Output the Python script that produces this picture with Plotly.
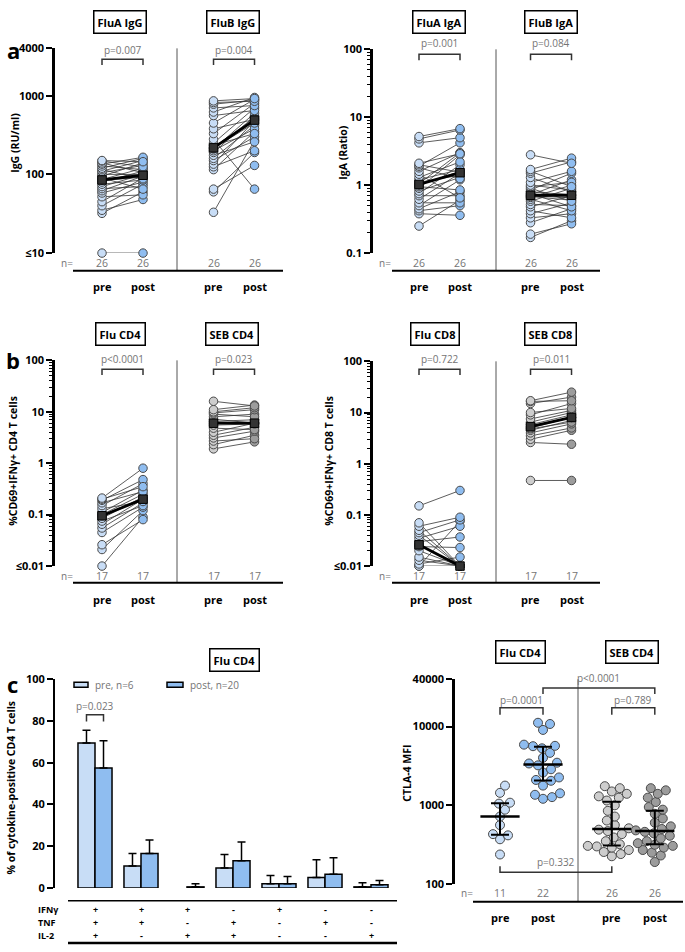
import numpy as np
import plotly.graph_objects as go

W, H = 685, 952

# ------------------------------------------------------------------ data
cats = ["pre", "post"]

fluA_igg_pre = [10, 32, 35, 40, 45, 52, 58, 62, 66, 70, 75, 80, 84, 86, 90, 95, 100, 105, 110, 115, 120, 128, 135, 140, 148, 150]
fluA_igg_post = [10, 60, 48, 75, 90, 55, 80, 95, 70, 100, 85, 110, 92, 120, 65, 140, 100, 130, 150, 88, 160, 115, 165, 105, 125, 145]
fluB_igg_pre = [33, 60, 65, 115, 125, 135, 150, 160, 175, 190, 200, 210, 215, 220, 235, 250, 280, 330, 380, 450, 560, 620, 700, 780, 820, 860]
fluB_igg_post = [270, 190, 130, 350, 200, 480, 300, 420, 260, 550, 380, 600, 450, 520, 330, 700, 65, 800, 500, 900, 650, 950, 750, 880, 850, 920]

fluA_iga_pre = [0.25, 0.38, 0.42, 0.45, 0.5, 0.55, 0.62, 0.7, 0.75, 0.82, 0.9, 0.95, 1.0, 1.05, 1.1, 1.2, 1.3, 1.45, 1.6, 1.8, 1.9, 2.0, 2.1, 4.2, 4.8, 5.2]
fluA_iga_post = [0.6, 0.36, 0.5, 0.8, 1.2, 0.55, 1.5, 0.7, 2.0, 1.3, 2.8, 0.85, 1.6, 3.0, 1.4, 1.7, 2.2, 0.65, 3.0, 1.25, 4.2, 1.55, 2.9, 5.0, 6.5, 6.8]
fluB_iga_pre = [0.17, 0.19, 0.28, 0.33, 0.38, 0.42, 0.48, 0.52, 0.58, 0.62, 0.66, 0.68, 0.7, 0.72, 0.75, 0.8, 0.85, 0.9, 0.95, 1.0, 1.1, 1.3, 1.5, 1.6, 1.7, 2.8]
fluB_iga_post = [0.3, 0.27, 0.45, 0.38, 0.55, 0.33, 0.7, 0.5, 0.9, 0.42, 1.0, 0.6, 0.65, 1.2, 0.48, 0.72, 1.5, 0.58, 1.1, 0.85, 1.6, 0.8, 2.2, 0.95, 2.5, 2.1]

flu_cd4_pre = [0.01, 0.021, 0.026, 0.045, 0.055, 0.065, 0.075, 0.085, 0.095, 0.1, 0.11, 0.13, 0.15, 0.17, 0.19, 0.2, 0.21]
flu_cd4_post = [0.09, 0.12, 0.08, 0.14, 0.17, 0.2, 0.15, 0.22, 0.2, 0.25, 0.3, 0.18, 0.4, 0.28, 0.48, 0.35, 0.8]
seb_cd4_pre = [1.9, 2.3, 2.7, 3.1, 3.5, 4.0, 4.8, 5.5, 6.0, 6.5, 7.2, 8.0, 9.0, 9.5, 10, 11, 16]
seb_cd4_post = [2.6, 3.5, 3.0, 4.2, 5.0, 6.0, 4.5, 5.8, 6.2, 7.0, 6.0, 9.0, 8.0, 11, 12, 13.5, 13]

flu_cd8_pre = [0.01, 0.01, 0.011, 0.013, 0.015, 0.02, 0.024, 0.026, 0.026, 0.03, 0.035, 0.04, 0.045, 0.05, 0.06, 0.07, 0.15]
flu_cd8_post = [0.01, 0.075, 0.015, 0.01, 0.01, 0.01, 0.023, 0.01, 0.01, 0.037, 0.06, 0.01, 0.08, 0.01, 0.09, 0.01, 0.3]
seb_cd8_pre = [0.47, 2.6, 3.0, 3.5, 4.0, 4.5, 4.8, 5.0, 5.3, 5.8, 6.5, 7.5, 9, 10, 15, 16.5, 17]
seb_cd8_post = [0.47, 2.4, 4.5, 5.0, 6.0, 7.0, 6.5, 8.0, 8.0, 9.0, 10, 11, 15, 12, 20, 17, 25]

cyto_groups = list(range(7))
cyto_pre_mean = [69.5, 10.5, None, 9.5, 2, 5, 0.5]
cyto_pre_sd = [6, 6, None, 6.5, 4, 8.5, 2]
cyto_post_mean = [57.5, 16.5, 0.5, 13, 2, 6.5, 1.5]
cyto_post_sd = [13, 6.5, 1.5, 9, 3.5, 8, 2]
cyto_rows = ["IFNγ", "TNF", "IL-2"]
cyto_signs = [["+", "+", "+", "-", "+", "-", "-"],
              ["+", "+", "-", "+", "-", "+", "-"],
              ["+", "-", "+", "+", "-", "-", "+"]]

ctla_flu_pre = [237, 370, 415, 430, 560, 720, 880, 1050, 1080, 1440, 1780]
ctla_flu_post = [1210, 1270, 1360, 1420, 1780, 2050, 2100, 2260, 2610, 2870, 3220, 3400, 3480, 4020, 4640, 5300, 5640, 5700, 5900, 9080, 10800, 11200]
ctla_seb_pre = [225, 240, 255, 270, 290, 300, 305, 320, 350, 390, 430, 470, 490, 510, 560, 640, 720, 850, 1000, 1150, 1250, 1300, 1400, 1500, 1650, 1750]
ctla_seb_post = [190, 230, 250, 270, 290, 305, 315, 330, 350, 380, 410, 440, 460, 480, 500, 540, 600, 680, 780, 880, 950, 1100, 1250, 1400, 1550, 1650]

# ------------------------------------------------------------------ style
FONT = "Open Sans"
BLUE_PRE, BLUE_POST = "#c8ddf6", "#8fbdf0"
GREY_PRE, GREY_POST = "#cdcdcd", "#9c9c9c"
EDGE = "#4a4a4a"
PGREY = "#747474"


def X(p):
    return p / W


def Y(p):
    return 1 - p / H


fig = go.Figure()
layout = dict(width=W, height=H, margin=dict(l=0, r=0, t=0, b=0),
              paper_bgcolor="white", plot_bgcolor="white", showlegend=False,
              font=dict(family=FONT, color="black"))
shapes, annotations = [], []
naxes = [0]


def add_axes(xdom, ydom, xrange, yrange, ytype, tickvals, ticktext, minor=None, linew=2.5):
    naxes[0] += 1
    s = "" if naxes[0] == 1 else str(naxes[0])
    layout["xaxis" + s] = dict(domain=[X(xdom[0]), X(xdom[1])], range=xrange, visible=False,
                               anchor="y" + s, fixedrange=True)
    ya = dict(domain=[Y(ydom[1]), Y(ydom[0])], range=yrange, type=ytype, anchor="x" + s,
              showline=True, linewidth=linew, linecolor="black", ticks="outside", ticklen=6,
              tickwidth=2, tickcolor="black", tickvals=tickvals,
              ticktext=[f"<b>{t}</b>" for t in ticktext],
              tickfont=dict(size=11, family=FONT, color="black"),
              showgrid=False, zeroline=False, fixedrange=True)
    if minor is not None:
        ya["minor"] = dict(tickvals=minor, ticks="outside", ticklen=3, tickwidth=1, tickcolor="black")
    layout["yaxis" + s] = ya
    return "x" + s, "y" + s


def xr(dom, pre_px, unit):
    return [(dom[0] - pre_px) / unit, (dom[1] - pre_px) / unit]


def text(x, y, t, size=10, color="black", bold=False, xref="paper", angle=0, xanchor="center"):
    annotations.append(dict(x=x, y=y, xref=xref, yref="paper", text=f"<b>{t}</b>" if bold else t,
                            showarrow=False, font=dict(size=size, color=color, family=FONT),
                            textangle=angle, xanchor=xanchor, yanchor="middle", borderpad=0))


def title_box(xc, yc, t):
    annotations.append(dict(x=X(xc), y=Y(yc), xref="paper", yref="paper", text=f"<b>{t}</b>",
                            showarrow=False, font=dict(size=11, color="black", family=FONT),
                            bordercolor="black", borderwidth=1.5, borderpad=3, bgcolor="white",
                            xanchor="center", yanchor="middle"))


def hline(x0, x1, y, w=2, color="black"):
    shapes.append(dict(type="line", xref="paper", yref="paper", x0=X(x0), x1=X(x1), y0=Y(y), y1=Y(y),
                       line=dict(color=color, width=w)))


def vline(x, y0, y1, w=1, color="#555"):
    shapes.append(dict(type="line", xref="paper", yref="paper", x0=X(x), x1=X(x), y0=Y(y0), y1=Y(y1),
                       line=dict(color=color, width=w)))


def bracket(xref, xa, xb, ytop, yleg, label, ytext, xtext=None):
    shapes.append(dict(type="path", xref=xref, yref="paper",
                       path=f"M {xa},{Y(yleg)} L {xa},{Y(ytop)} L {xb},{Y(ytop)} L {xb},{Y(yleg)}",
                       line=dict(color="#333", width=1.5)))
    text((xa + xb) / 2 if xtext is None else xtext, Y(ytext), label, size=10, color=PGREY, xref=xref)


def paired(xref, yref, x0, x1, pre, post, cpre, cpost):
    lx, ly = [], []
    for a, b in zip(pre, post):
        lx += [x0, x1, None]
        ly += [a, b, None]
    fig.add_trace(go.Scatter(x=lx, y=ly, mode="lines", line=dict(color="#333", width=0.8),
                             xaxis=xref, yaxis=yref, cliponaxis=False, hoverinfo="skip"))
    for xv, vals, c in ((x0, pre, cpre), (x1, post, cpost)):
        fig.add_trace(go.Scatter(x=[xv] * len(vals), y=vals, mode="markers",
                                 marker=dict(size=8.5, color=c, line=dict(color=EDGE, width=1)),
                                 xaxis=xref, yaxis=yref, cliponaxis=False))
    med = [float(np.median(pre)), float(np.median(post))]
    fig.add_trace(go.Scatter(x=[x0, x1], y=med, mode="lines+markers",
                             line=dict(color="black", width=2.8),
                             marker=dict(symbol="square", size=8.5, color="#333",
                                         line=dict(color="black", width=1)),
                             xaxis=xref, yaxis=yref, cliponaxis=False))


def minors(lo_exp, hi_exp):
    return [m * 10 ** e for e in range(lo_exp, hi_exp) for m in range(2, 10)]


POS = [0, 1, 2.72, 3.72]

# ------------------------------------------------------------------ panel a
text(X(13), Y(43), "a", size=22, bold=True)
# IgG
dom = [55, 292]
xa, ya = add_axes(dom, [41, 249], xr(dom, 102, 41), [1, np.log10(4000)], "log",
                  [10, 100, 1000, 4000], ["≤10", "100", "1000", "4000"])
paired(xa, ya, POS[0], POS[1], fluA_igg_pre, fluA_igg_post, BLUE_PRE, BLUE_POST)
paired(xa, ya, POS[2], POS[3], fluB_igg_pre, fluB_igg_post, BLUE_PRE, BLUE_POST)
bracket(xa, POS[0], POS[1], 52, 58, "p=0.007", 43)
bracket(xa, POS[2], POS[3], 52, 58, "p=0.004", 43)
title_box(120, 14, "FluA IgG")
title_box(233, 14, "FluB IgG")
vline(177, 41, 267)
hline(73, 283, 267)
text(X(15), Y(137), "IgG (RU/ml)", size=10.5, bold=True, angle=-90)
text(X(67), Y(259), "n=", size=10, color=PGREY)
for p, n in zip(POS, [26, 26, 26, 26]):
    text(p, Y(259), str(n), size=10.5, color=PGREY, xref=xa)
for p, c in zip(POS, cats * 2):
    text(p, Y(283), c, size=11, bold=True, xref=xa)

# IgA
dom = [373, 610]
xa, ya = add_axes(dom, [42, 249], xr(dom, 419, 41), [-1, 2], "log",
                  [0.1, 1, 10, 100], ["0.1", "1", "10", "100"], minor=minors(-1, 2))
paired(xa, ya, POS[0], POS[1], fluA_iga_pre, fluA_iga_post, BLUE_PRE, BLUE_POST)
paired(xa, ya, POS[2], POS[3], fluB_iga_pre, fluB_iga_post, BLUE_PRE, BLUE_POST)
bracket(xa, POS[0], POS[1], 47, 53, "p=0.001", 36)
bracket(xa, POS[2], POS[3], 47, 53, "p=0.084", 36)
title_box(439, 14, "FluA IgA")
title_box(551, 14, "FluB IgA")
vline(496, 42, 267)
hline(392, 600, 267)
text(X(343), Y(147), "IgA (Ratio)", size=10.5, bold=True, angle=-90)
text(X(385), Y(259), "n=", size=10, color=PGREY)
for p, n in zip(POS, [26, 26, 26, 26]):
    text(p, Y(259), str(n), size=10.5, color=PGREY, xref=xa)
for p, c in zip(POS, cats * 2):
    text(p, Y(283), c, size=11, bold=True, xref=xa)

# ------------------------------------------------------------------ panel b
text(X(13), Y(358), "b", size=22, bold=True)
dom = [55, 292]
xa, ya = add_axes(dom, [358, 567], xr(dom, 102, 41), [-2, 2], "log",
                  [0.01, 0.1, 1, 10, 100], ["≤0.01", "0.1", "1", "10", "100"], minor=minors(-2, 2))
paired(xa, ya, POS[0], POS[1], flu_cd4_pre, flu_cd4_post, BLUE_PRE, BLUE_POST)
paired(xa, ya, POS[2], POS[3], seb_cd4_pre, seb_cd4_post, GREY_PRE, GREY_POST)
bracket(xa, POS[0], POS[1], 367, 373, "p<0.0001", 357)
bracket(xa, POS[2], POS[3], 367, 373, "p=0.023", 357)
title_box(120, 331, "Flu CD4")
title_box(232, 331, "SEB CD4")
vline(177, 358, 584)
hline(73, 283, 584)
text(X(13), Y(460), "%CD69+IFNγ+ CD4 T cells", size=10.5, bold=True, angle=-90)
text(X(67), Y(577), "n=", size=10, color=PGREY)
for p, n in zip(POS, [17, 17, 17, 17]):
    text(p, Y(577), str(n), size=10.5, color=PGREY, xref=xa)
for p, c in zip(POS, cats * 2):
    text(p, Y(601), c, size=11, bold=True, xref=xa)

dom = [373, 610]
xa, ya = add_axes(dom, [359, 567], xr(dom, 419, 41), [-2, 2], "log",
                  [0.01, 0.1, 1, 10, 100], ["≤0.01", "0.1", "1", "10", "100"], minor=minors(-2, 2))
paired(xa, ya, POS[0], POS[1], flu_cd8_pre, flu_cd8_post, BLUE_PRE, BLUE_POST)
paired(xa, ya, POS[2], POS[3], seb_cd8_pre, seb_cd8_post, GREY_PRE, GREY_POST)
bracket(xa, POS[0], POS[1], 367, 373, "p=0.722", 357)
bracket(xa, POS[2], POS[3], 367, 373, "p=0.011", 357)
title_box(435, 331, "Flu CD8")
title_box(550, 331, "SEB CD8")
vline(496, 359, 584)
hline(392, 600, 584)
text(X(329), Y(460), "%CD69+IFNγ+ CD8 T cells", size=10.5, bold=True, angle=-90)
text(X(385), Y(577), "n=", size=10, color=PGREY)
for p, n in zip(POS, [17, 17, 17, 17]):
    text(p, Y(577), str(n), size=10.5, color=PGREY, xref=xa)
for p, c in zip(POS, cats * 2):
    text(p, Y(601), c, size=11, bold=True, xref=xa)

# ------------------------------------------------------------------ panel c left (bars)
text(X(12), Y(687), "c", size=22, bold=True)
dom = [55, 400]
xa, ya = add_axes(dom, [682, 894], xr(dom, 95, 46), [0, 100], "linear",
                  [0, 20, 40, 60, 80, 100], ["0", "20", "40", "60", "80", "100"], linew=2)
for name, mean, sd, col in (("pre, n=6", cyto_pre_mean, cyto_pre_sd, BLUE_PRE),
                            ("post, n=20", cyto_post_mean, cyto_post_sd, BLUE_POST)):
    fig.add_trace(go.Bar(x=cyto_groups, y=mean, name=name, marker=dict(color=col, line=dict(color="black", width=1.5)),
                         error_y=dict(type="data", symmetric=False, array=sd,
                                      arrayminus=[0] * len(sd), color="black", thickness=1.5, width=4),
                         xaxis=xa, yaxis=ya))
layout["barmode"] = "group"
layout["bargap"] = 0.26
layout["bargroupgap"] = 0.0
bracket(xa, -0.185, 0.185, 718, 725, "p=0.023", 709)
title_box(234, 662, "Flu CD4")
# legend
for x0, x1, col, lab in ((74, 88, BLUE_PRE, "pre, n=6"), (167, 183, BLUE_POST, "post, n=20")):
    shapes.append(dict(type="rect", xref="paper", yref="paper", x0=X(x0), x1=X(x1), y0=Y(690), y1=Y(685),
                       line=dict(color="black", width=1.5), fillcolor=col))
    text(X(x1 + 6), Y(687.5), lab, size=10, color=PGREY, xanchor="left")
hline(68, 397, 907, w=1.5)
hline(68, 397, 950, w=2.5)
for r, (row, signs) in enumerate(zip(cyto_rows, cyto_signs)):
    yy = [916, 929, 942][r]
    text(X(37), Y(yy), row, size=9, bold=True, xanchor="left")
    for g, s in zip(cyto_groups, signs):
        text(g, Y(yy), s, size=9, bold=True, xref=xa)
text(X(11), Y(792), "% of cytokine-positive CD4 T cells", size=10.5, bold=True, angle=-90)

# ------------------------------------------------------------------ panel c right (CTLA-4)
CPOS = [0, 1, 2.6, 3.6]
dom = [455, 685]
PX_UNIT = 43
xa, ya = add_axes(dom, [682, 890], xr(dom, 500, PX_UNIT), [2, np.log10(40000)], "log",
                  [100, 1000, 10000, 40000], ["100", "1000", "10000", "40000"])
PX_DECADE = (890 - 682) / (np.log10(40000) - 2)


def swarm(vals, diam=9.0):
    ys = np.log10(vals) * PX_DECADE
    order = np.argsort(ys)
    placed, offs = [], np.zeros(len(vals))
    cands = [0.0] + [s * k for k in np.arange(1, 60, 1.0) for s in (1, -1)]
    for i in order:
        for c in cands:
            if all((c - px) ** 2 + (ys[i] - pyy) ** 2 >= (diam * 0.95) ** 2 for px, pyy in placed):
                placed.append((c, ys[i]))
                offs[i] = c
                break
    return offs / PX_UNIT


for xc, vals, col in ((CPOS[0], ctla_flu_pre, BLUE_PRE), (CPOS[1], ctla_flu_post, BLUE_POST),
                      (CPOS[2], ctla_seb_pre, GREY_PRE), (CPOS[3], ctla_seb_post, GREY_POST)):
    off = swarm(vals)
    fig.add_trace(go.Scatter(x=xc + off, y=vals, mode="markers",
                             marker=dict(size=9, color=col, line=dict(color=EDGE, width=1)),
                             xaxis=xa, yaxis=ya, cliponaxis=False))
    q1, med, q3 = np.percentile(vals, [25, 50, 75])
    fig.add_trace(go.Scatter(x=[xc], y=[med], mode="markers",
                             marker=dict(symbol="line-ew", size=28, line=dict(color="black", width=2.5)),
                             error_y=dict(type="data", symmetric=False, array=[q3 - med],
                                          arrayminus=[med - q1], color="black", thickness=2, width=9),
                             xaxis=xa, yaxis=ya, cliponaxis=False))
title_box(520, 654, "Flu CD4")
title_box(632, 654, "SEB CD4")
vline(578, 682, 908)
hline(473, 683, 908)
bracket(xa, CPOS[1], CPOS[3], 691, 697, "p<0.0001", 681, xtext=2.3)
bracket(xa, CPOS[0], CPOS[1], 711, 718, "p=0.0001", 703)
bracket(xa, CPOS[2], CPOS[3], 711, 718, "p=0.789", 703)
bracket(xa, CPOS[0], CPOS[2], 878, 872, "p=0.332", 868, xtext=1.3)
text(X(407), Y(778), "CTLA-4 MFI", size=10.5, bold=True, angle=-90)
text(X(467), Y(899), "n=", size=10, color=PGREY)
for p, n in zip(CPOS, [11, 22, 26, 26]):
    text(p, Y(899), str(n), size=10.5, color=PGREY, xref=xa)
for p, c in zip(CPOS, cats * 2):
    text(p, Y(924), c, size=11, bold=True, xref=xa)

layout["shapes"] = shapes
layout["annotations"] = annotations
fig.update_layout(**layout)
fig.write_html("out.html")
